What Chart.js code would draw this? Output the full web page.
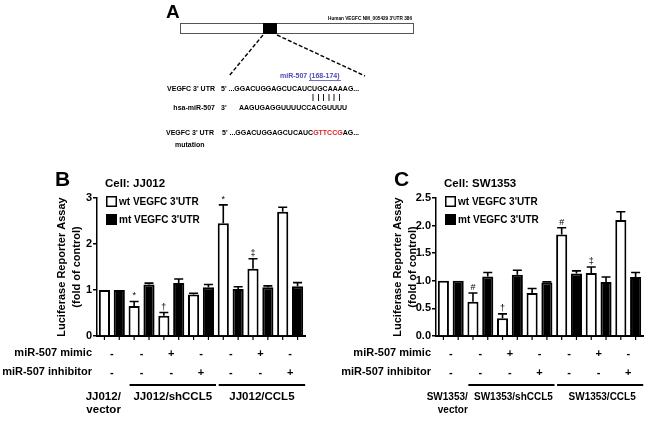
<!DOCTYPE html>
<html>
<head>
<meta charset="utf-8">
<script src="https://cdn.jsdelivr.net/npm/chart.js@4.4.1/dist/chart.umd.min.js"></script>
<style>
  body { margin: 0; background: #fff; }
  #lienzo { position: relative; width: 650px; height: 423px; overflow: hidden; background: #fff; }
  #lienzo canvas, #lienzo svg { position: absolute; left: 0; top: 0; }
  svg { will-change: transform; }
  svg text { font-family: "Liberation Sans", Arial, sans-serif; font-weight: bold; }
</style>
</head>
<body>
<div id="lienzo">
  <!-- Panel A: esquema del 3'UTR -->
  <svg width="650" height="150">
    <text x="166" y="18" font-size="19">A</text>
    <text x="412" y="20" font-size="4.7" text-anchor="end">Human VEGFC NM_005429 3'UTR  386</text>
    <rect x="180.5" y="23.5" width="233" height="10" fill="#fff" stroke="#555" stroke-width="1"/>
    <rect x="263" y="23" width="14" height="11" fill="#000"/>
    <line x1="263" y1="35" x2="229" y2="76" stroke="#000" stroke-width="1.4" stroke-dasharray="4 2"/>
    <line x1="277" y1="35" x2="365" y2="76" stroke="#000" stroke-width="1.4" stroke-dasharray="4 2"/>
    <text x="280" y="78" font-size="7" fill="#4b4bb4">miR-507 (168-174)</text>
    <line x1="309" y1="80.5" x2="341" y2="80.5" stroke="#4b4bb4" stroke-width="0.8"/>
    <text x="215" y="91" font-size="7" text-anchor="end">VEGFC 3' UTR</text>
    <text x="221" y="91" font-size="7">5' ...GGACUGGAGCUCAUCUGCAAAAG...</text>
    <g stroke="#000" stroke-width="0.9">
      <line x1="313" y1="94" x2="313" y2="101"/>
      <line x1="318.5" y1="94" x2="318.5" y2="101"/>
      <line x1="323.5" y1="94" x2="323.5" y2="101"/>
      <line x1="329" y1="94" x2="329" y2="101"/>
      <line x1="334" y1="94" x2="334" y2="101"/>
      <line x1="339.5" y1="94" x2="339.5" y2="101"/>
    </g>
    <text x="215" y="110" font-size="7" text-anchor="end">hsa-miR-507</text>
    <text x="221" y="110" font-size="7">3'</text>
    <text x="239" y="110" font-size="7">AAGUGAGGUUUUCCACGUUUU</text>
    <text x="166" y="135" font-size="7">VEGFC 3' UTR</text>
    <text x="175" y="147" font-size="7">mutation</text>
    <text x="222" y="135" font-size="7">5' ...GGACUGGAGCUCAUC<tspan fill="#e32222">GTTCCG</tspan>AG...</text>
  </svg>
  <canvas id="graficaB" width="650" height="423"></canvas>
  <canvas id="graficaC" width="650" height="423"></canvas>
</div>
<script>
// Filas de tratamiento bajo el eje X
const mimic = ['-', '-', '+', '-', '-', '+', '-'];
const inhibidor = ['-', '-', '-', '+', '-', '-', '+'];
const etiquetas = mimic.map((m, i) => [m, inhibidor[i]]);

// Celula JJ012 (panel B)
const wtJJ012 = [1.00, 0.65, 0.44, 0.90, 2.45, 1.46, 2.70];
const wtJJ012Err = [0, 0.10, 0.07, 0.03, 0.40, 0.22, 0.10];
const wtJJ012Sig = ['', '*', '†', '', '*', '‡', ''];
const mtJJ012 = [1.00, 1.12, 1.15, 1.06, 1.02, 1.06, 1.08];
const mtJJ012Err = [0, 0.03, 0.09, 0.06, 0.05, 0.03, 0.08];
const ticksJJ012 = [0, 1, 2, 3];
const gruposJJ012 = ['JJ012/shCCL5', 'JJ012/CCL5'];

// Celula SW1353 (panel C)
const wtSW1353 = [1.00, 0.62, 0.32, 0.78, 1.84, 1.14, 2.10];
const wtSW1353Err = [0, 0.16, 0.08, 0.08, 0.12, 0.11, 0.15];
const wtSW1353Sig = ['', '#', '†', '', '#', '‡', ''];
const mtSW1353 = [1.00, 1.08, 1.11, 0.97, 1.13, 0.98, 1.07];
const mtSW1353Err = [0, 0.07, 0.08, 0.01, 0.05, 0.09, 0.08];
const ticksSW1353 = [0, 0.5, 1.0, 1.5, 2.0, 2.5];
const gruposSW1353 = ['SW1353/shCCL5', 'SW1353/CCL5'];

const FUENTE = '"Liberation Sans", Arial, Helvetica, sans-serif';
Chart.defaults.font.family = FUENTE;
Chart.defaults.color = '#000';

// Barras de error, simbolos, marcas del eje X y textos del panel
const decoracion = {
    id: 'decoracion',
    afterDatasetsDraw(chart) {
        const { ctx, scales: { y } } = chart;
        ctx.save();
        ctx.strokeStyle = '#000';
        ctx.fillStyle = '#000';
        chart.data.datasets.forEach((ds, d) => {
            chart.getDatasetMeta(d).data.forEach((bar, i) => {
                const top = y.getPixelForValue(ds.data[i]);
                let tope = top;
                if (ds.err[i] > 0) {
                    tope = y.getPixelForValue(ds.data[i] + ds.err[i]);
                    ctx.lineWidth = 1.6;
                    ctx.beginPath();
                    ctx.moveTo(bar.x, top);
                    ctx.lineTo(bar.x, tope);
                    ctx.moveTo(bar.x - 4.5, tope);
                    ctx.lineTo(bar.x + 4.5, tope);
                    ctx.stroke();
                }
                if (ds.sig && ds.sig[i]) {
                    ctx.font = '9px ' + FUENTE;
                    ctx.textAlign = 'center';
                    ctx.textBaseline = 'bottom';
                    ctx.fillText(ds.sig[i], bar.x, tope - 1);
                }
                // marca del eje X en cada barra
                ctx.lineWidth = 1.2;
                ctx.beginPath();
                ctx.moveTo(bar.x, y.bottom);
                ctx.lineTo(bar.x, y.bottom + 4);
                ctx.stroke();
            });
        });
        ctx.restore();
    },
    afterDraw(chart, args, o) {
        const { ctx, chartArea: area, scales: { x } } = chart;
        ctx.save();
        ctx.fillStyle = '#000';
        ctx.strokeStyle = '#000';

        // letra del panel y celula
        ctx.textAlign = 'left';
        ctx.textBaseline = 'alphabetic';
        ctx.font = 'bold 21px ' + FUENTE;
        ctx.fillText(o.letra, o.letraX, area.top - 12);
        ctx.font = 'bold 11.5px ' + FUENTE;
        ctx.fillText(o.celula, area.left + 8, area.top - 11);

        // leyenda dentro del area
        ctx.font = 'bold 10px ' + FUENTE;
        ctx.textBaseline = 'middle';
        chart.data.datasets.forEach((ds, d) => {
            const sy = area.top - 2 + d * 18;
            ctx.fillStyle = ds.backgroundColor;
            ctx.fillRect(area.left + 9, sy, 11, 11);
            ctx.lineWidth = 1.5;
            ctx.strokeRect(area.left + 9.75, sy + 0.75, 9.5, 9.5);
            ctx.fillStyle = '#000';
            ctx.fillText(ds.label, area.left + 22, sy + 6);
        });

        // nombres de filas
        ctx.font = 'bold 11px ' + FUENTE;
        ctx.textAlign = 'right';
        ctx.fillText('miR-507 mimic', area.left - 5, area.bottom + 17);
        ctx.fillText('miR-507 inhibitor', area.left - 5, area.bottom + 36);

        // grupos
        ctx.font = 'bold ' + o.tamGrupo + 'px ' + FUENTE;
        ctx.textBaseline = 'alphabetic';
        ctx.fillText(o.vector, x.getPixelForValue(0) + o.vectorDx, area.bottom + 64);
        ctx.fillText('vector', x.getPixelForValue(0) + o.vectorDx, area.bottom + 77);
        ctx.textAlign = 'center';
        ctx.lineWidth = 2;
        o.grupos.forEach((g) => {
            const x0 = x.getPixelForValue(g.desde) - 12;
            const x1 = x.getPixelForValue(g.hasta) + 15;
            ctx.beginPath();
            ctx.moveTo(x0, area.bottom + 49);
            ctx.lineTo(x1, area.bottom + 49);
            ctx.stroke();
            ctx.fillText(g.texto, (x0 + x1) / 2 + o.dxGrupo, area.bottom + 64);
        });
        ctx.restore();
    }
};

function crearGrafica(id, wt, wtErr, wtSig, mt, mtErr, ticks, decimales, padding, anchoY, extra) {
    return new Chart(document.querySelector(id), {
        type: 'bar',
        data: {
            labels: etiquetas,
            datasets: [
                {
                    label: 'wt VEGFC 3\'UTR',
                    data: wt,
                    err: wtErr,
                    sig: wtSig,
                    backgroundColor: '#ffffff',
                    borderColor: '#000',
                    borderWidth: 2
                },
                {
                    label: 'mt VEGFC 3\'UTR',
                    data: mt,
                    err: mtErr,
                    backgroundColor: '#000000',
                    borderColor: '#000',
                    borderWidth: 2
                }
            ]
        },
        options: {
            responsive: false,
            animation: false,
            layout: { padding: padding },
            datasets: { bar: { barPercentage: 0.75, categoryPercentage: 1 } },
            plugins: {
                legend: { display: false },
                tooltip: { enabled: false },
                decoracion: extra
            },
            scales: {
                x: {
                    afterFit: (s) => { s.height = 50; },
                    grid: { display: false },
                    border: { color: '#000', width: 2 },
                    ticks: {
                        autoSkip: false,
                        maxRotation: 0,
                        padding: 0.5,
                        font: { size: 11, weight: 'bold', lineHeight: '19px' }
                    }
                },
                y: {
                    min: ticks[0],
                    max: ticks[ticks.length - 1],
                    afterFit: (s) => { s.width = anchoY; },
                    afterBuildTicks: (s) => { s.ticks = ticks.map((v) => ({ value: v })); },
                    grid: { drawOnChartArea: false, color: '#000', lineWidth: 1.5, tickLength: 4 },
                    border: { color: '#000', width: 1.5 },
                    ticks: {
                        padding: 1,
                        font: { size: 11, weight: 'bold' },
                        callback: (v) => v.toFixed(decimales)
                    },
                    title: {
                        display: true,
                        text: ['Luciferase Reporter Assay', '(fold of control)'],
                        padding: { top: 4, bottom: 0 },
                        font: { size: 11, weight: 'bold', lineHeight: '15px' }
                    }
                }
            }
        },
        plugins: [decoracion]
    });
}

crearGrafica('#graficaB', wtJJ012, wtJJ012Err, wtJJ012Sig, mtJJ012, mtJJ012Err, ticksJJ012, 0,
    { left: 50, top: 198, right: 345, bottom: 37 }, 47,
    {
        letra: 'B', letraX: 55, celula: 'Cell: JJ012', tamGrupo: 11.5, dxGrupo: 0,
        vector: 'JJ012/', vectorDx: 9,
        grupos: [{ texto: gruposJJ012[0], desde: 1, hasta: 3 }, { texto: gruposJJ012[1], desde: 4, hasta: 6 }]
    });

crearGrafica('#graficaC', wtSW1353, wtSW1353Err, wtSW1353Sig, mtSW1353, mtSW1353Err, ticksSW1353, 1,
    { left: 386, top: 198, right: 7, bottom: 37 }, 50,
    {
        letra: 'C', letraX: 394, celula: 'Cell: SW1353', tamGrupo: 10, dxGrupo: 2,
        vector: 'SW1353/', vectorDx: 17,
        grupos: [{ texto: gruposSW1353[0], desde: 1, hasta: 3 }, { texto: gruposSW1353[1], desde: 4, hasta: 6 }]
    });
</script>
</body>
</html>
